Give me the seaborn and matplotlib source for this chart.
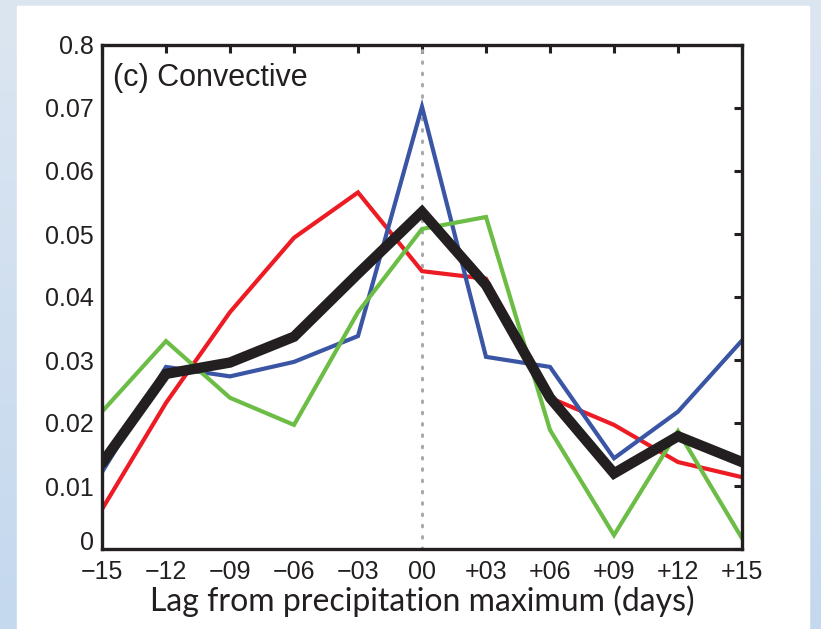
import numpy as np
import pandas as pd
import matplotlib
matplotlib.use("Agg")
import matplotlib.pyplot as plt
import matplotlib.transforms as mtransforms
import seaborn as sns
from matplotlib.font_manager import fontManager

# Lag (days) relative to the precipitation maximum
lags = [-15, -12, -9, -6, -3, 0, 3, 6, 9, 12, 15]
lag_labels = ["\u221215", "\u221212", "\u221209", "\u221206", "\u221203",
              "00", "+03", "+06", "+09", "+12", "+15"]

# Frequency curves for each member and their mean
red_vals = [0.0063, 0.0232, 0.0376, 0.0494, 0.0566, 0.0441, 0.0429, 0.0240, 0.0197, 0.0138, 0.0114]
blue_vals = [0.0122, 0.0289, 0.0274, 0.0297, 0.0338, 0.0702, 0.0305, 0.0289, 0.0144, 0.0218, 0.0331]
green_vals = [0.0218, 0.0330, 0.0240, 0.0197, 0.0376, 0.0508, 0.0527, 0.0189, 0.0022, 0.0187, 0.0017]
mean_vals = [0.0136, 0.0278, 0.0296, 0.0337, 0.0437, 0.0535, 0.0419, 0.0240, 0.0120, 0.0179, 0.0138]

y_ticks = [0, 0.01, 0.02, 0.03, 0.04, 0.05, 0.06, 0.07, 0.08]
y_labels = ["0", "0.01", "0.02", "0.03", "0.04", "0.05", "0.06", "0.07", "0.8"]

series = {"red": red_vals, "blue": blue_vals, "green": green_vals, "mean": mean_vals}
df = pd.concat(
    [pd.DataFrame({"lag": lags, "freq": v, "series": k}) for k, v in series.items()],
    ignore_index=True,
)

palette = {"red": "#ed1c24", "blue": "#3a55a4", "green": "#6cbd45", "mean": "#231f20"}
widths = {"red": 3.0, "blue": 3.0, "green": 3.0, "mean": 7.5}

sns.set_theme(style="white")
names = {f.name for f in fontManager.ttflist}
tick_font = "Liberation Sans" if "Liberation Sans" in names else "DejaVu Sans"
label_font = "Lato" if "Lato" in names else "DejaVu Sans"

fig = plt.figure(figsize=(8.21, 6.29), dpi=100)

# Soft blue backdrop with a white card on top
bg = fig.add_axes([0, 0, 1, 1], zorder=-3)
grad = np.linspace(0, 1, 256).reshape(-1, 1)
top = np.array([0xdc, 0xe6, 0xf1]) / 255
bot = np.array([0xc4, 0xd8, 0xee]) / 255
img = top[None, None, :] * (1 - grad[:, :, None]) + bot[None, None, :] * grad[:, :, None]
bg.imshow(img, aspect="auto", extent=[0, 1, 0, 1], origin="upper")
bg.add_patch(plt.Rectangle((17 / 821, 0), (809 - 17) / 821, 1 - 6 / 629,
                           color="white", transform=bg.transAxes))
bg.set_axis_off()

W, H = 821, 629
x0, x1, y0, y1 = 102, 742, 45, 549
ax = fig.add_axes([x0 / W, 1 - y1 / H, (x1 - x0) / W, (y1 - y0) / H])
ax.set_facecolor("none")

ax.axvline(0, color="#a7a9ac", lw=2.2, ls=(0, (0.5, 3.2)), dash_capstyle="round", zorder=1)

for name in ["red", "blue", "green", "mean"]:
    sns.lineplot(data=df[df["series"] == name], x="lag", y="freq",
                 color=palette[name], lw=widths[name], ax=ax, legend=False,
                 zorder=3 if name == "mean" else 2, solid_joinstyle="miter")

ax.set_xlim(-15, 15)
ax.set_ylim(0, 0.08)
ax.set_xticks(lags)
ax.set_xticklabels(lag_labels)
ax.set_yticks(y_ticks)
ax.set_yticklabels(y_labels)
ax.tick_params(direction="in", length=6, width=2.2, color="#231f20",
               top=True, right=True, labelsize=18)
ax.tick_params(axis="x", pad=8)
ax.tick_params(axis="y", pad=6)
for lab in ax.get_xticklabels() + ax.get_yticklabels():
    lab.set_fontfamily(tick_font)
    lab.set_color("#231f20")

# Lift the zero label a little so it clears the lag labels below
zero_lab = ax.get_yticklabels()[0]
zero_lab.set_transform(zero_lab.get_transform()
                       + mtransforms.ScaledTranslation(0, 6 / 72, fig.dpi_scale_trans))

for sp in ax.spines.values():
    sp.set_linewidth(2.4)
    sp.set_color("#231f20")
    sp.set_visible(True)

ax.set_ylabel("")
ax.set_xlabel("Lag from precipitation maximum (days)", fontsize=23,
              family=label_font, color="#231f20", labelpad=1)
ax.text(0.017, 0.965, "(c) Convective", transform=ax.transAxes, fontsize=22,
        family=tick_font, color="#231f20", va="top", ha="left")

fig.savefig("out.png", dpi=100)
